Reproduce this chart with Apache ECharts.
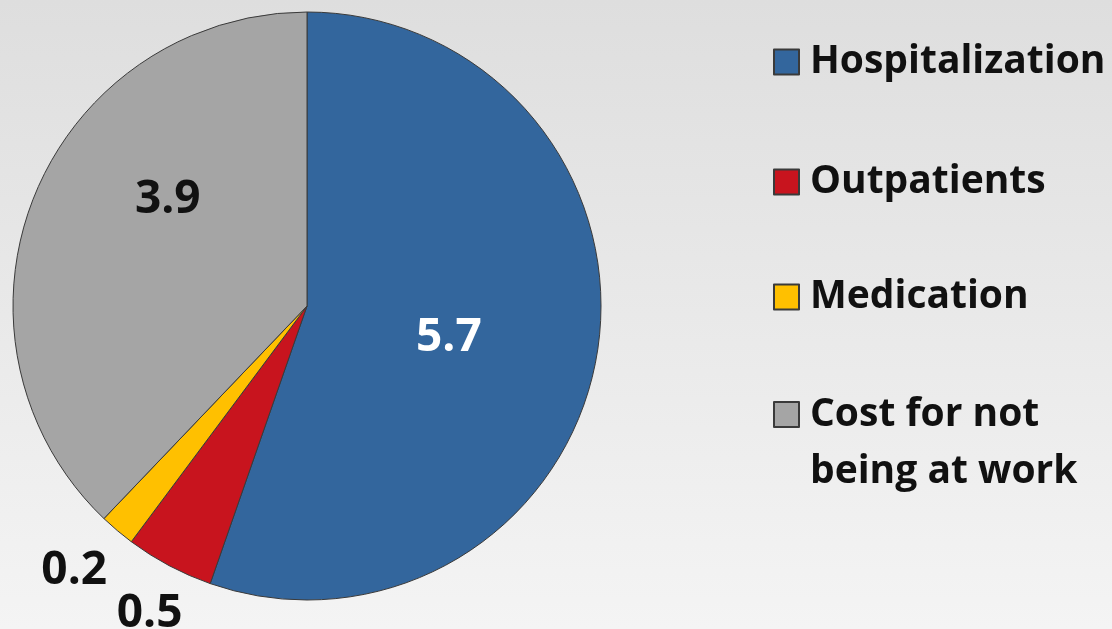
<!DOCTYPE html>
<html>
<head>
<meta charset="utf-8">
<script src="https://cdn.jsdelivr.net/npm/echarts@6/dist/echarts.min.js"></script>
<style>
  html, body { margin: 0; padding: 0; }
  #chart { width: 1112px; height: 629px; }
</style>
</head>
<body>
<div id="chart"></div>
<script>
// Cost components (values shown on the slices)
const categories = ['Hospitalization', 'Outpatients', 'Medication', 'Cost for not\nbeing at work'];
const values = [5.7, 0.5, 0.2, 3.9];
const colors = ['#33669D', '#C8141E', '#FFC000', '#A5A5A5'];
const labelColors = ['#ffffff', '#111111', '#111111', '#111111'];
// label nudges from the default inner anchor of each slice
const labelOffsets = [[-6, 7], [-87, 175], [-136, 150], [0, -50]];
// vertical position of each legend row
const legendTops = [39, 159, 274, 329];

const FONT = 'Open Sans';

const pieData = categories.map((name, i) => ({
  name: name,
  value: values[i],
  itemStyle: { color: colors[i] },
  label: { color: labelColors[i], offset: labelOffsets[i] }
}));

const legends = categories.map((name, i) => {
  const multi = name.indexOf('\n') >= 0;
  return {
    orient: 'vertical',
    left: 773,
    top: legendTops[i],
    padding: 0,
    itemWidth: 25,
    itemHeight: 25,
    icon: 'rect',
    selectedMode: false,
    data: [name],
    // a blank leading line keeps the first text line level with the swatch
    formatter: n => (multi ? '\u00a0\n' + n : n),
    textStyle: {
      fontFamily: FONT,
      fontWeight: 'bold',
      fontSize: 39,
      color: '#111111',
      lineHeight: multi ? 57 : 46,
      padding: [0, 0, 0, 6]
    }
  };
});

const chart = echarts.init(document.getElementById('chart'), null, { renderer: 'canvas' });
chart.setOption({
  animation: false,
  backgroundColor: {
    type: 'linear', x: 0, y: 0, x2: 0, y2: 1,
    colorStops: [
      { offset: 0, color: '#dedede' },
      { offset: 1, color: '#f4f4f4' }
    ]
  },
  legend: legends,
  series: [{
    type: 'pie',
    center: [307, 306],
    radius: 294,
    startAngle: 90,
    clockwise: true,
    avoidLabelOverlap: false,
    itemStyle: { borderColor: '#3a3a3a', borderWidth: 1 },
    label: {
      show: true,
      position: 'inside',
      formatter: p => p.value.toFixed(1),
      fontFamily: FONT,
      fontWeight: 'bold',
      fontSize: 46
    },
    labelLine: { show: false },
    emphasis: { disabled: true },
    data: pieData
  }]
});
</script>
</body>
</html>
